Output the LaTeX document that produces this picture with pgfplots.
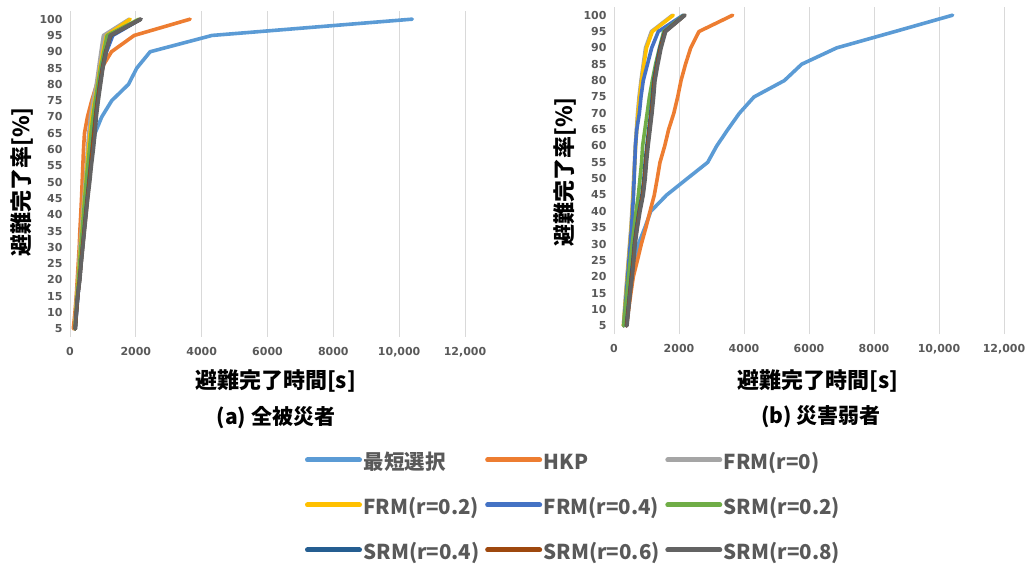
\documentclass[border=0pt]{standalone}
\usepackage{fontspec}
\setmainfont{Noto Sans CJK JP}
\newfontfamily\tickfont{DejaVu Sans}
\usepackage{pgfplots}
\pgfplotsset{compat=1.18}
\usepackage{pgfplotstable}

\definecolor{cShort}{HTML}{5B9BD5}
\definecolor{cHKP}{HTML}{ED7D31}
\definecolor{cFRMa}{HTML}{A5A5A5}
\definecolor{cFRMb}{HTML}{FFC000}
\definecolor{cFRMc}{HTML}{4472C4}
\definecolor{cSRMa}{HTML}{70AD47}
\definecolor{cSRMb}{HTML}{255E91}
\definecolor{cSRMc}{HTML}{9E480E}
\definecolor{cSRMd}{HTML}{636363}
\definecolor{tickgray}{HTML}{595959}
\definecolor{gridgray}{HTML}{D9D9D9}

% evacuation completion time [s] for each completion rate [%], all evacuees
\pgfplotstableread{
y   short  hkp   frm0  frm2  frm4  srm2  srm4  srm6  srm8
5   150    100   140   150   160   150   160   160   160
10  190    150   170   180   200   185   195   195   190
15  230    190   200   210   240   220   235   235   230
20  270    220   240   250   280   260   290   290   300
25  310    250   270   285   320   295   335   335   340
30  350    280   300   320   360   330   380   380   390
35  400    300   340   360   400   370   425   430   440
40  450    326   380   400   440   410   470   480   490
45  500    350   420   440   480   450   520   530   540
50  560    370   460   480   520   490   570   580   600
55  620    390   500   520   570   540   620   630   650
60  690    410   530   560   620   590   670   680   710
65  760    440   570   610   680   640   720   730   760
70  964    530   620   670   740   700   770   780   800
75  1268   660   700   750   820   770   830   840   860
80  1776   810   800   840   900   850   900   910   930
85  2030   960   870   910   990   930   980   990   1000
90  2435   1260  940   1000  1110  1030  1080  1090  1100
95  4313   1950  1015  1110  1300  1130  1250  1230  1220
100 10400  3650  1800  1830  2150  2100  2150  2150  2160
}\tabAll

% evacuation completion time [s] for each completion rate [%], vulnerable evacuees
\pgfplotstableread{
y   short  hkp   frm0  frm2  frm4  srm2  srm4  srm6  srm8
5   310    380   290   290   300   300   380   390   400
10  390    450   325   330   340   350   430   440   450
15  470    520   360   370   380   400   480   490   500
20  560    594   400   410   420   450   530   545   560
25  650    720   440   450   460   500   580   595   610
30  750    840   480   490   500   560   625   640   650
35  950    980   520   530   540   620   690   705   720
40  1130   1108  550   560   570   680   770   785   800
45  1620   1240  580   590   600   750   860   880   900
50  2250   1330  605   615   620   800   920   940   960
55  2883   1415  630   640   640   850   960   980   1000
60  3160   1560  655   665   660   880   1010  1030  1050
65  3500   1680  690   700   700   950   1070  1090  1110
70  3857   1840  725   740   780   1020  1130  1150  1170
75  4308   1960  770   790   830   1090  1180  1200  1220
80  5241   2062  830   850   900   1180  1220  1240  1262
85  5775   2200  900   920   1030  1280  1310  1330  1350
90  6852   2360  970   1000  1160  1400  1410  1430  1450
95  8646   2615  1150  1180  1363  1530  1560  1575  1590
100 10420  3652  1800  1825  2130  2150  2170  2180  2185
}\tabWeak

\pgfplotsset{
  panel/.style={
    scale only axis,
    xmin=0, xmax=12000, ymin=2.5, ymax=102.5,
    axis line style={draw=none},
    major tick length=0pt,
    xmajorgrids,
    grid style={gridgray, line width=1pt},
    xtick={0,2000,...,12000},
    xticklabels={0,2000,4000,6000,8000,{10,000},{12,000}},
    scaled x ticks=false,
    ytick={5,10,...,100},
    /pgf/number format/assume math mode=true,
    tick label style={font=\tickfont\fontsize{11}{13}\selectfont\bfseries, text=tickgray},
    yticklabel style={xshift=-4pt},
    xticklabel style={yshift=-7pt},
    every axis plot/.append style={line width=3.6pt, line cap=round, line join=round},
  },
}

\begin{document}
\begin{tikzpicture}
\useasboundingbox (0pt,0pt) rectangle (1036pt,-569pt);

% (a) all evacuees
\begin{axis}[panel, width=395pt, height=326pt, at={(70pt,-337pt)}, anchor=south west]
\addplot[cShort] table[x=short, y=y] {\tabAll};
\addplot[cHKP]   table[x=hkp,   y=y] {\tabAll};
\addplot[cFRMa]  table[x=frm0,  y=y] {\tabAll};
\addplot[cFRMb]  table[x=frm2,  y=y] {\tabAll};
\addplot[cFRMc]  table[x=frm4,  y=y] {\tabAll};
\addplot[cSRMa]  table[x=srm2,  y=y] {\tabAll};
\addplot[cSRMb]  table[x=srm4,  y=y] {\tabAll};
\addplot[cSRMc]  table[x=srm6,  y=y] {\tabAll};
\addplot[cSRMd]  table[x=srm8,  y=y] {\tabAll};
\end{axis}

% (b) vulnerable evacuees, carries the shared legend
\begin{axis}[panel, width=390pt, height=327pt, at={(614pt,-334pt)}, anchor=south west,
  legend columns=3,
  legend cell align=left,
  legend image code/.code={\draw[#1, line width=5pt] (0pt,5pt) -- (52pt,5pt);},
  legend style={
    at={(axis description cs:-0.7923,-0.370)}, anchor=north west,
    draw=none, fill=none, inner sep=0pt, outer sep=0pt,
    font=\fontsize{20.5}{24}\selectfont\bfseries, text=tickgray,
    nodes={text height=15pt, text depth=5pt, inner ysep=0pt, inner xsep=1.5pt},
    row sep=25pt,
    /tikz/every even column/.append style={column sep=4pt},
  },
]
\addplot[cShort] table[x=short, y=y] {\tabWeak};
\addplot[cHKP]   table[x=hkp,   y=y] {\tabWeak};
\addplot[cFRMa]  table[x=frm0,  y=y] {\tabWeak};
\addplot[cFRMb]  table[x=frm2,  y=y] {\tabWeak};
\addplot[cFRMc]  table[x=frm4,  y=y] {\tabWeak};
\addplot[cSRMa]  table[x=srm2,  y=y] {\tabWeak};
\addplot[cSRMb]  table[x=srm4,  y=y] {\tabWeak};
\addplot[cSRMc]  table[x=srm6,  y=y] {\tabWeak};
\addplot[cSRMd]  table[x=srm8,  y=y] {\tabWeak};
\legend{最短選択, HKP, FRM(r=0), FRM(r=0.2), FRM(r=0.4), SRM(r=0.2), SRM(r=0.4), SRM(r=0.6), SRM(r=0.8)}
\end{axis}

% axis titles and panel captions
\begin{scope}[every node/.style={font=\fontsize{22}{26}\selectfont\bfseries, text=black, inner sep=0pt}]
\node[rotate=90] at (22.5pt,-182pt) {避難完了率[\%]};
\node[rotate=90] at (565pt,-172pt) {避難完了率[\%]};
\node at (275.5pt,-381pt) {避難完了時間[s]};
\node at (818pt,-381pt) {避難完了時間[s]};
\node[font=\fontsize{21}{25}\selectfont\bfseries] at (276pt,-418pt) {(a) 全被災者};
\node[font=\fontsize{21}{25}\selectfont\bfseries] at (821pt,-417pt) {(b) 災害弱者};
\end{scope}
\end{tikzpicture}
\end{document}
